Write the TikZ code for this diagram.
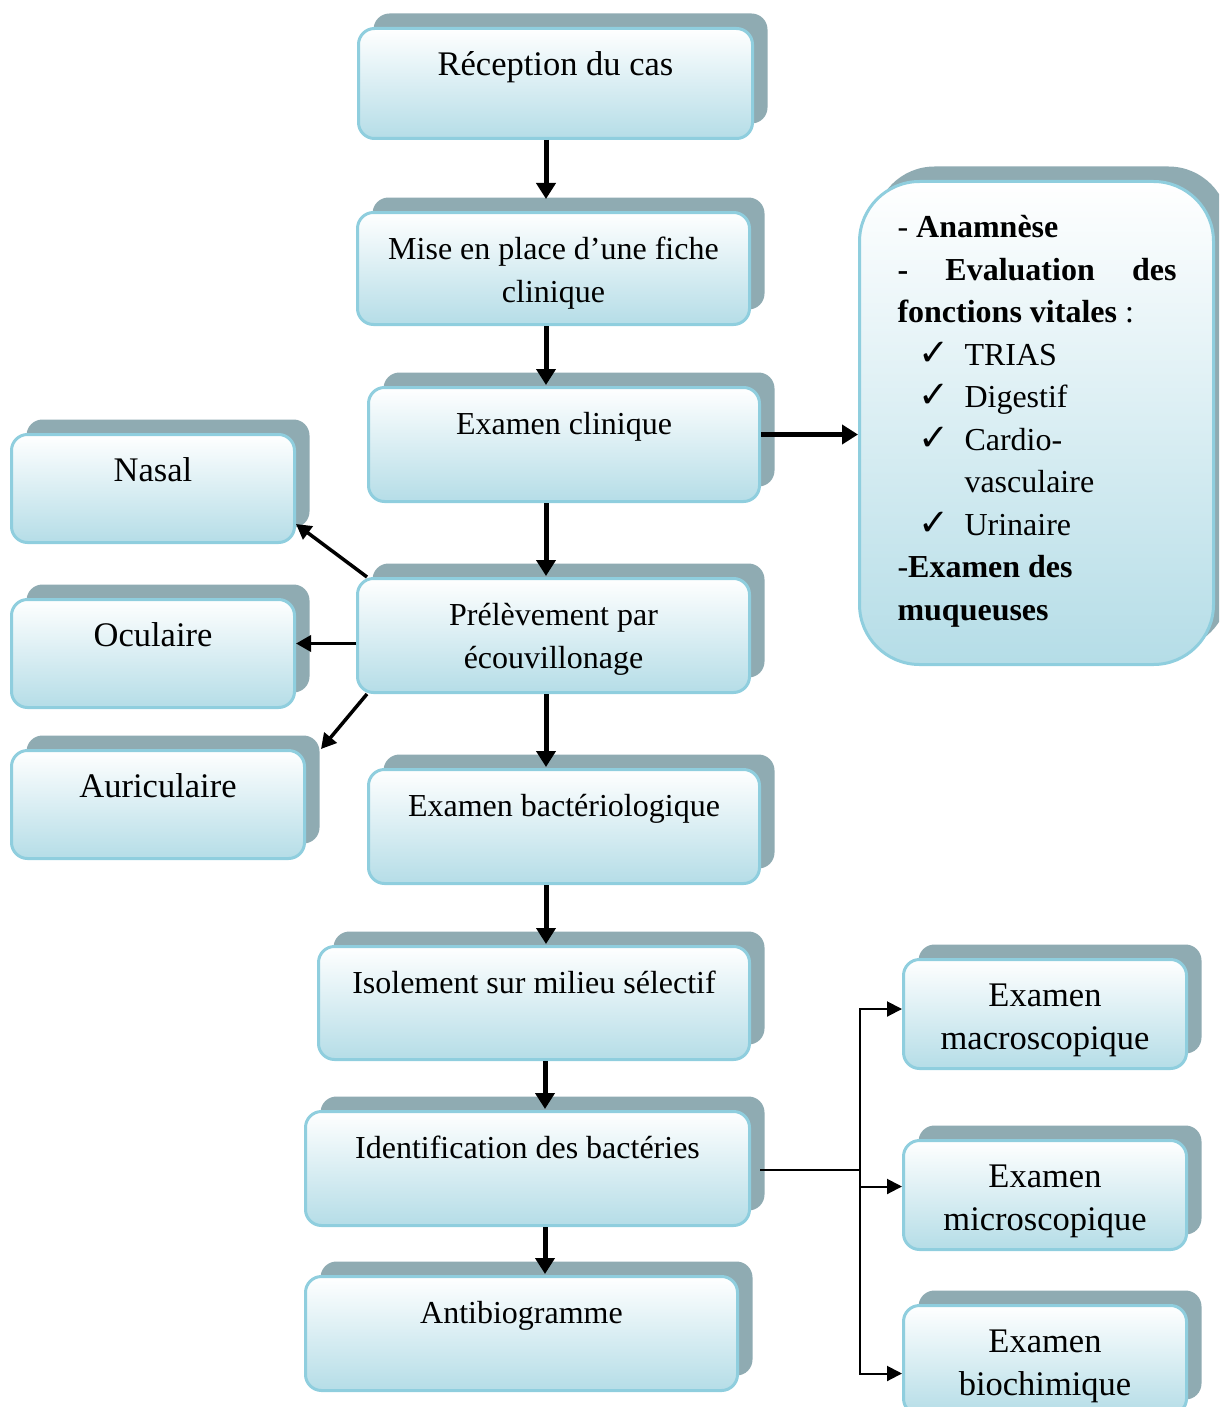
\documentclass[tikz,border=0pt]{standalone}
\usepackage{fontspec}
\setmainfont{Liberation Serif}
\newfontfamily\symfont{DejaVu Sans}
\usetikzlibrary{arrows.meta,shadows,calc}
\definecolor{shadowc}{RGB}{143,171,178}
\definecolor{edgec}{RGB}{143,206,222}
\definecolor{fillb}{RGB}{181,221,231}
\newcommand\bx[3]{\parbox[c][#2pt][t]{#1pt}{\centering\rule{0pt}{47pt}#3}}
\newcommand\ck{{\fontsize{37}{37}\selectfont\symfont ✓}}
\tikzset{
  flowbox/.style={draw=edgec, line width=3pt, rounded corners=16pt,
    top color=white, bottom color=fillb, inner sep=0pt, anchor=north west,
    font=\fontsize{34.5}{43}\selectfont,
    drop shadow={shadow xshift=15pt, shadow yshift=15pt, fill=shadowc, opacity=1}},
  smalltext/.style={font=\fontsize{32}{43}\selectfont},
  bigarrow/.style={line width=5pt, -{Triangle[width=19pt,length=16pt]}},
  medarrow/.style={line width=3.5pt, -{Triangle[width=16pt,length=15pt]}},
  thinline/.style={line width=2pt},
  thinarrow/.style={line width=2pt, -{Triangle[width=15pt,length=15pt]}},
}
\begin{document}
\begin{tikzpicture}[x=1pt,y=-1pt]
\useasboundingbox (0,0) rectangle (1219,1407);
\clip (0,0) rectangle (1219,1407);

% main column
\node[flowbox] (n1) at (357,27) {\bx{394}{110}{Réception du cas}};
\node[flowbox,smalltext] (n2) at (356,211) {\bx{392}{112}{Mise en place d’une fiche\\clinique}};
\node[flowbox,smalltext] (n3) at (367,386) {\bx{391}{114}{Examen clinique}};
\node[flowbox,smalltext] (n4) at (356,577) {\bx{392}{114}{Prélèvement par\\écouvillonage}};
\node[flowbox,smalltext] (n5) at (367,768) {\bx{391}{114}{Examen bactériologique}};
\node[flowbox,smalltext] (n6) at (317,945) {\bx{431}{113}{Isolement sur milieu sélectif}};
\node[flowbox,smalltext] (n7) at (304,1110) {\bx{444}{114}{Identification des bactéries}};
\node[flowbox,smalltext] (n8) at (304,1275) {\bx{432}{114}{Antibiogramme}};

% left column
\node[flowbox] (nasal) at (10,433) {\bx{283}{108}{Nasal}};
\node[flowbox] (ocul) at (10,598) {\bx{283}{108}{Oculaire}};
\node[flowbox] (auric) at (10,749) {\bx{293}{108}{Auriculaire}};

% right column
\node[flowbox] (macro) at (902,958) {\bx{283}{109}{Examen\\macroscopique}};
\node[flowbox] (micro) at (902,1139) {\bx{283}{109}{Examen\\microscopique}};
\node[flowbox] (bio) at (902,1304) {\bx{283}{109}{Examen\\biochimique}};

% big box
\node[flowbox, rounded corners=60pt] (big) at (858,180) {\parbox[c][483pt][t]{354pt}{\hspace*{38pt}\parbox[t]{279pt}{\fontsize{32}{42.5}\selectfont\raggedright
\rule{0pt}{56pt}- \textbf{Anamnèse}\\
\textbf{-}\hfill\textbf{Evaluation}\hfill\textbf{des}\\
\textbf{fonctions vitales} :\\
\hspace*{21pt}\makebox[46pt][l]{\ck}TRIAS\\
\hspace*{21pt}\makebox[46pt][l]{\ck}Digestif\\
\hspace*{21pt}\makebox[46pt][l]{\ck}Cardio-\\
\hspace*{67pt}vasculaire\\
\hspace*{21pt}\makebox[46pt][l]{\ck}Urinaire\\
-\textbf{Examen des}\\
\textbf{muqueuses}}}};

% connectors
\coordinate (ax) at (546,0);
\coordinate (ax2) at (545,0);
\draw[bigarrow, shorten >=12pt] (n1.south -| ax) -- (n2.north -| ax);
\draw[bigarrow, shorten >=1pt] (n2.south -| ax) -- (n3.north -| ax);
\draw[bigarrow, shorten >=1pt] (n3.south -| ax) -- (n4.north -| ax);
\draw[bigarrow, shorten >=1pt] (n4.south -| ax) -- (n5.north -| ax);
\draw[bigarrow, shorten >=1pt] (n5.south -| ax) -- (n6.north -| ax);
\draw[bigarrow, shorten >=1pt] (n6.south -| ax2) -- (n7.north -| ax2);
\draw[bigarrow, shorten >=1pt] (n7.south -| ax2) -- (n8.north -| ax2);

\coordinate (c1) at ($(n3.east)+(0,-10)$);
\draw[bigarrow] (c1) -- (c1 -| big.west);

\draw[medarrow] ($(n4.north west)+(11,0)$) -- ($(nasal.south east)+(0,-20)$);
\coordinate (o1) at ($(n4.west)+(0,8)$);
\draw[medarrow] (o1) -- (o1 -| ocul.east);
\draw[medarrow] ($(n4.south west)+(11,0)$) -- ($(auric.north east)+(15,0)$);

\coordinate (bx) at (860,1170);
\draw[thinline] ($(bx -| n7.east)+(9,0)$) -- (bx);
\draw[thinarrow] (bx) |- ($(macro.west)+(0,-5)$);
\draw[thinarrow] (bx) |- ($(micro.west)+(0,-8.5)$);
\draw[thinarrow] (bx) |- ($(bio.west)+(0,13.5)$);
\end{tikzpicture}
\end{document}
